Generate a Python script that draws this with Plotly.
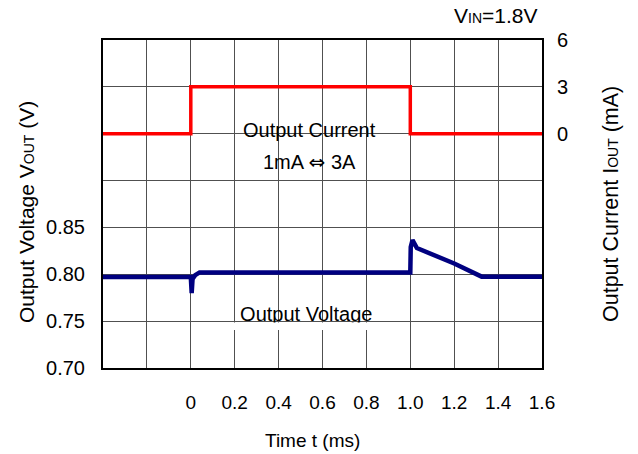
import plotly.graph_objects as go

# Output voltage response (left axis, V)
time_v = [-0.4, 0.0, 0.004, 0.008, 0.02, 0.04, 1.0, 1.002, 1.01, 1.03, 1.2, 1.325, 1.6]
vout = [0.797, 0.797, 0.780, 0.795, 0.799, 0.802, 0.802, 0.829, 0.8365, 0.828, 0.8115, 0.7975, 0.7975]

# Load current step (right axis)
time_i = [-0.4, 0.0, 0.0, 1.0, 1.0, 1.6]
iout = [0, 0, 3, 3, 0, 0]

# Axis ticks
x_ticks = [-0.4, -0.2, 0.0, 0.2, 0.4, 0.6, 0.8, 1.0, 1.2, 1.4, 1.6]
x_labels = ["", "", "0", "0.2", "0.4", "0.6", "0.8", "1.0", "1.2", "1.4", "1.6"]
yl_ticks = [0.70, 0.75, 0.80, 0.85, 0.90, 0.95, 1.00, 1.05]
yl_labels = ["0.70", "0.75", "0.80", "0.85", "", "", "", ""]
yr_ticks = [0, 3, 6]
yr_labels = ["0", "3", "6"]

W, H = 638, 454
L, R, T, B = 103, 542, 40, 368
FONT = "Arial, Liberation Sans, sans-serif"


def px(x):
    return (x - L) / (R - L)


def py(y):
    return (B - y) / (B - T)


fig = go.Figure()

fig.add_trace(go.Scatter(
    x=time_i, y=iout, yaxis="y2", mode="lines",
    line=dict(color="#FF0000", width=3.5), showlegend=False, hoverinfo="skip",
))
fig.add_trace(go.Scatter(
    x=time_v, y=vout, mode="lines",
    line=dict(color="#000080", width=4.5), showlegend=False, hoverinfo="skip",
))

# "Output Voltage" label drawn as a text trace so its lower edge can be masked
fig.add_trace(go.Scatter(
    x=[0.526], y=[0.7553], mode="text", text=["Output Voltage"],
    textfont=dict(family=FONT, size=20, color="#000000"),
    textposition="middle center", cliponaxis=False,
    showlegend=False, hoverinfo="skip",
))

shapes = [
    # white label backgrounds covering the grid
    dict(type="rect", xref="paper", yref="paper", layer="between",
         x0=px(213), x1=px(409), y0=py(186), y1=py(113),
         fillcolor="white", line=dict(width=0)),
    dict(type="rect", xref="paper", yref="paper", layer="between",
         x0=px(207), x1=px(405), y0=py(325), y1=py(297),
         fillcolor="white", line=dict(width=0)),
    # strip trimming the bottom of the "Output Voltage" label
    dict(type="rect", xref="paper", yref="paper", layer="above",
         x0=px(207), x1=px(405), y0=py(330), y1=py(322.5),
         fillcolor="white", line=dict(width=0)),
]


def label(text, x, y, size=20, angle=0, xanchor="center"):
    return dict(text=text, x=px(x), y=py(y), xref="paper", yref="paper",
                xanchor=xanchor, yanchor="middle", textangle=angle,
                showarrow=False, font=dict(family=FONT, size=size, color="#000"))


annotations = [
    label("Output Current", 309, 130),
    label('1mA <span style="font-family:DejaVu Sans">\u21d4</span> 3A', 309, 162),
    label('V<span style="font-size:14px">IN</span>=1.8V', 539, 16, size=21, xanchor="right"),
    label("Time t (ms)", 312, 440, size=19),
    label('Output Voltage V<span style="font-size:14px">OUT</span> (V)', 26, 212, size=21, angle=-90),
    label('Output Current I<span style="font-size:14px">OUT</span> (mA)', 611, 204, size=21.5, angle=-90),
]

fig.update_layout(
    width=W, height=H,
    margin=dict(l=L, r=W - R, t=T, b=H - B, pad=0),
    paper_bgcolor="white", plot_bgcolor="white",
    font=dict(family=FONT, size=20, color="#000"),
    xaxis=dict(
        range=[-0.4, 1.6], tickmode="array", tickvals=x_ticks, ticktext=x_labels,
        showgrid=True, gridcolor="#505050", gridwidth=1, zeroline=False,
        showline=True, linecolor="#000", linewidth=2, mirror=True,
        ticks="outside", ticklen=16, tickcolor="rgba(0,0,0,0)",
        tickfont=dict(family=FONT, size=19),
    ),
    yaxis=dict(
        range=[0.70, 1.05], tickmode="array", tickvals=yl_ticks, ticktext=yl_labels,
        showgrid=True, gridcolor="#505050", gridwidth=1, zeroline=False,
        showline=True, linecolor="#000", linewidth=2, mirror=True,
        ticks="outside", ticklen=12, tickcolor="rgba(0,0,0,0)",
        tickfont=dict(family=FONT, size=20),
    ),
    yaxis2=dict(
        range=[-15, 6], overlaying="y", side="right",
        tickmode="array", tickvals=yr_ticks, ticktext=yr_labels,
        showgrid=False, zeroline=False, showline=False,
        ticks="outside", ticklen=10, tickcolor="rgba(0,0,0,0)",
        tickfont=dict(family=FONT, size=20),
    ),
    shapes=shapes,
    annotations=annotations,
)

fig.write_html("out.html")
